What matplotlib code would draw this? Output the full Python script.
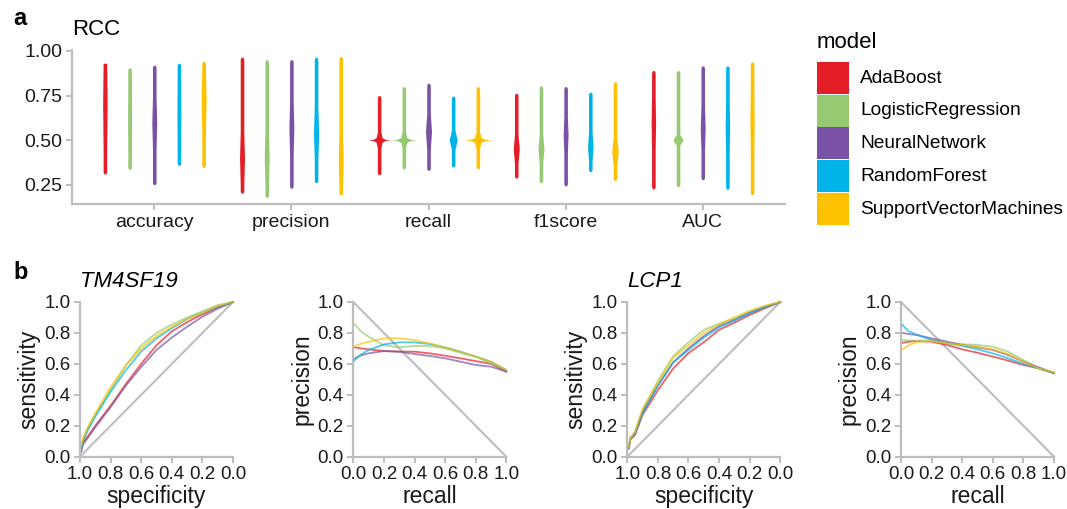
import numpy as np
import matplotlib
matplotlib.use('Agg')
import matplotlib.pyplot as plt
from matplotlib.patches import Rectangle

plt.rcParams['font.family'] = ['Liberation Sans', 'DejaVu Sans']

W, H = 1067, 509

models = ['AdaBoost', 'LogisticRegression', 'NeuralNetwork', 'RandomForest', 'SupportVectorMachines']
colors = ['#E41E26', '#97C872', '#7A52A5', '#00B4EA', '#FDC100']
metrics = ['accuracy', 'precision', 'recall', 'f1score', 'AUC']

# violin summaries (rows = metric, cols = model)
vio_min = [[0.312, 0.338, 0.252, 0.360, 0.349],
           [0.204, 0.181, 0.232, 0.263, 0.194],
           [0.308, 0.340, 0.332, 0.351, 0.341],
           [0.289, 0.263, 0.245, 0.325, 0.276],
           [0.228, 0.241, 0.280, 0.226, 0.196]]
vio_max = [[0.931, 0.905, 0.920, 0.931, 0.942],
           [0.965, 0.951, 0.951, 0.965, 0.968],
           [0.750, 0.800, 0.819, 0.747, 0.800],
           [0.763, 0.804, 0.800, 0.769, 0.827],
           [0.890, 0.890, 0.916, 0.916, 0.938]]
vio_peak = [[0.700, 0.620, 0.595, 0.650, 0.726],
            [0.400, 0.400, 0.567, 0.539, 0.390],
            [0.502, 0.502, 0.549, 0.502, 0.502],
            [0.452, 0.452, 0.530, 0.465, 0.437],
            [0.595, 0.502, 0.567, 0.576, 0.614]]
# full width at the peak (x units)
vio_width = [[0.033, 0.029, 0.036, 0.029, 0.036],
             [0.036, 0.036, 0.036, 0.038, 0.036],
             [0.160, 0.180, 0.044, 0.058, 0.200],
             [0.044, 0.044, 0.036, 0.040, 0.047],
             [0.033, 0.068, 0.036, 0.033, 0.031]]
vio_spread = [[0.25, 0.20, 0.15, 0.20, 0.20],
              [0.15, 0.15, 0.15, 0.15, 0.15],
              [0.045, 0.045, 0.10, 0.055, 0.045],
              [0.08, 0.08, 0.10, 0.08, 0.08],
              [0.15, 0.028, 0.12, 0.15, 0.20]]
vio_shape = [['d', 'd', 'd', 'd', 'd'],
             ['d', 'd', 'd', 'd', 'd'],
             ['s', 's', 'd', 'd', 's'],
             ['d', 'd', 'd', 'd', 'd'],
             ['d', 'o', 'd', 'd', 'd']]

# ROC curves (sensitivity at given specificity)
roc_spec = [1.0, 0.99, 0.98, 0.95, 0.9, 0.8, 0.7, 0.6, 0.5, 0.4, 0.3, 0.2, 0.1, 0.0]
roc_tm4sf19 = [
    [0.02, 0.05, 0.09, 0.13, 0.20, 0.33, 0.47, 0.60, 0.72, 0.81, 0.87, 0.92, 0.965, 1.0],
    [0.02, 0.06, 0.11, 0.18, 0.27, 0.43, 0.59, 0.72, 0.80, 0.855, 0.90, 0.94, 0.98, 1.0],
    [0.02, 0.04, 0.08, 0.12, 0.19, 0.32, 0.46, 0.58, 0.69, 0.77, 0.84, 0.905, 0.957, 1.0],
    [0.02, 0.06, 0.10, 0.17, 0.26, 0.42, 0.56, 0.68, 0.765, 0.83, 0.89, 0.93, 0.97, 1.0],
    [0.03, 0.08, 0.12, 0.19, 0.28, 0.45, 0.59, 0.70, 0.78, 0.84, 0.89, 0.93, 0.975, 1.0]]
roc_lcp1 = [
    [0.05, 0.05, 0.11, 0.14, 0.27, 0.43, 0.57, 0.67, 0.74, 0.82, 0.866, 0.916, 0.96, 1.0],
    [0.05, 0.06, 0.12, 0.16, 0.30, 0.49, 0.65, 0.74, 0.82, 0.86, 0.894, 0.937, 0.972, 1.0],
    [0.05, 0.06, 0.12, 0.15, 0.29, 0.46, 0.61, 0.70, 0.78, 0.845, 0.884, 0.93, 0.968, 1.0],
    [0.05, 0.06, 0.12, 0.15, 0.28, 0.46, 0.61, 0.69, 0.77, 0.836, 0.88, 0.928, 0.967, 1.0],
    [0.05, 0.07, 0.12, 0.16, 0.31, 0.48, 0.64, 0.72, 0.80, 0.855, 0.90, 0.944, 0.976, 1.0]]

# precision-recall curves
pr_recall = [0.0, 0.02, 0.05, 0.1, 0.2, 0.3, 0.4, 0.5, 0.6, 0.7, 0.8, 0.9, 1.0]
pr_tm4sf19 = [
    [0.707, 0.705, 0.700, 0.694, 0.683, 0.679, 0.679, 0.668, 0.653, 0.636, 0.618, 0.600, 0.550],
    [0.862, 0.845, 0.810, 0.776, 0.720, 0.707, 0.716, 0.716, 0.700, 0.672, 0.647, 0.603, 0.560],
    [0.625, 0.640, 0.655, 0.668, 0.683, 0.679, 0.664, 0.651, 0.636, 0.614, 0.593, 0.582, 0.550],
    [0.614, 0.636, 0.660, 0.690, 0.726, 0.739, 0.739, 0.728, 0.707, 0.679, 0.647, 0.614, 0.560],
    [0.711, 0.720, 0.730, 0.743, 0.765, 0.765, 0.754, 0.733, 0.705, 0.679, 0.647, 0.614, 0.560]]
pr_lcp1 = [
    [0.733, 0.738, 0.743, 0.748, 0.743, 0.722, 0.694, 0.672, 0.647, 0.621, 0.593, 0.571, 0.540],
    [0.754, 0.753, 0.752, 0.750, 0.750, 0.737, 0.728, 0.722, 0.711, 0.679, 0.625, 0.571, 0.545],
    [0.800, 0.798, 0.793, 0.787, 0.765, 0.744, 0.722, 0.707, 0.690, 0.657, 0.614, 0.578, 0.540],
    [0.862, 0.840, 0.810, 0.790, 0.754, 0.733, 0.716, 0.694, 0.668, 0.636, 0.600, 0.571, 0.540],
    [0.690, 0.700, 0.720, 0.740, 0.748, 0.733, 0.722, 0.711, 0.694, 0.664, 0.614, 0.571, 0.545]]

GRAY = '#BDBDBD'
TXT = '#1A1A1A'


def fx(x):
    return x / W


def fy(y):
    return 1 - y / H


fig = plt.figure(figsize=(W / 100, H / 100), dpi=100)

# ---- panel a : violins
ax = fig.add_axes([fx(72), fy(204), fx(785) - fx(72), fy(49.7) - fy(204)])
ax.set_xlim(0.4, 5.6)
ax.set_ylim(0.1435, 1.007)

base = 0.026 / 2
fracs = {'s': (0.45, 0.12), 'd': (0.92, 0.70), 'o': (0.99, 0.90)}
for i in range(len(metrics)):
    for j in range(len(models)):
        lo, hi = vio_min[i][j], vio_max[i][j]
        pk, sp = vio_peak[i][j], vio_spread[i][j]
        ph = vio_width[i][j] / 2
        f1, f2 = fracs[vio_shape[i][j]]
        m1 = base + (ph - base) * f1
        m2 = base + (ph - base) * f2
        ys = np.array([lo, lo + 0.01, pk - sp, pk - 0.3 * sp, pk - 0.08 * sp, pk,
                       pk + 0.08 * sp, pk + 0.3 * sp, pk + sp, hi - 0.01, hi])
        ws = np.array([base * 0.5, base, base, m2, m1, ph, m1, m2, base, base, base * 0.5])
        ys = np.clip(ys, lo, hi)
        ys = np.maximum.accumulate(ys)
        xc = i + 1 + (j - 2) * 0.18
        ax.fill_betweenx(ys, xc - ws, xc + ws, color=colors[j], lw=0)

ax.set_xticks(range(1, 6))
ax.set_xticklabels(metrics)
ax.set_yticks([0.25, 0.5, 0.75, 1.0])
ax.set_yticklabels(['0.25', '0.50', '0.75', '1.00'])
for s in ['top', 'right']:
    ax.spines[s].set_visible(False)
for s in ['left', 'bottom']:
    ax.spines[s].set_color(GRAY)
    ax.spines[s].set_linewidth(1.6)
ax.tick_params(colors=GRAY, labelcolor=TXT, labelsize=14, length=4, width=1.4, pad=3)

fig.text(fx(13), fy(25), 'a', fontsize=17, fontweight='bold', va='baseline')
fig.text(fx(72), fy(35), 'RCC', fontsize=16, va='baseline')

# legend
fig.text(fx(817), fy(47.5), 'model', fontsize=16, va='baseline')
for j, m in enumerate(models):
    top = 61.7 + j * 32.8
    fig.patches.append(Rectangle((fx(817), fy(top + 32.0)), fx(849) - fx(817), fy(top) - fy(top + 32.0),
                                 transform=fig.transFigure, facecolor=colors[j], edgecolor='none'))
    fig.text(fx(860), fy(top + 16.4), m, fontsize=13.8, va='center')

# ---- panel b
fig.text(fx(13), fy(279), 'b', fontsize=17, fontweight='bold', va='baseline')

lefts = [80, 353.3, 627.3, 901]
ticks = [0.0, 0.2, 0.4, 0.6, 0.8, 1.0]
tlabels = ['0.0', '0.2', '0.4', '0.6', '0.8', '1.0']
panels = [('roc', roc_tm4sf19), ('pr', pr_tm4sf19), ('roc', roc_lcp1), ('pr', pr_lcp1)]
for k, (kind, data) in enumerate(panels):
    bx = fig.add_axes([fx(lefts[k]), fy(456.7), 153 / W, 154.7 / H])
    bx.set_ylim(0, 1)
    if kind == 'roc':
        bx.set_xlim(1, 0)
        bx.plot([1, 0], [0, 1], color=GRAY, lw=1.5, clip_on=False)
        for j in range(len(models)):
            bx.plot(roc_spec, data[j], color=colors[j], lw=1.3, alpha=0.7, clip_on=False)
        bx.set_xlabel('specificity', fontsize=16.5, color=TXT, labelpad=1)
        bx.set_ylabel('sensitivity', fontsize=16.5, color=TXT, labelpad=3)
    else:
        bx.set_xlim(0, 1)
        bx.plot([0, 1], [1, 0], color=GRAY, lw=1.5, clip_on=False)
        for j in range(len(models)):
            bx.plot(pr_recall, data[j], color=colors[j], lw=1.3, alpha=0.7, clip_on=False)
        bx.set_xlabel('recall', fontsize=16.5, color=TXT, labelpad=1)
        bx.set_ylabel('precision', fontsize=16.5, color=TXT, labelpad=3)
    bx.set_xticks(ticks)
    bx.set_xticklabels(tlabels)
    bx.set_yticks(ticks)
    bx.set_yticklabels(tlabels)
    for s in ['top', 'right']:
        bx.spines[s].set_visible(False)
    for s in ['left', 'bottom']:
        bx.spines[s].set_color(GRAY)
        bx.spines[s].set_linewidth(1.6)
    bx.tick_params(colors=GRAY, labelcolor=TXT, labelsize=13.5, length=4, width=1.4, pad=3)

fig.text(fx(80), fy(287), 'TM4SF19', fontsize=16, style='italic', va='baseline')
fig.text(fx(627.3), fy(287), 'LCP1', fontsize=16, style='italic', va='baseline')

fig.savefig('out.png', dpi=100)
